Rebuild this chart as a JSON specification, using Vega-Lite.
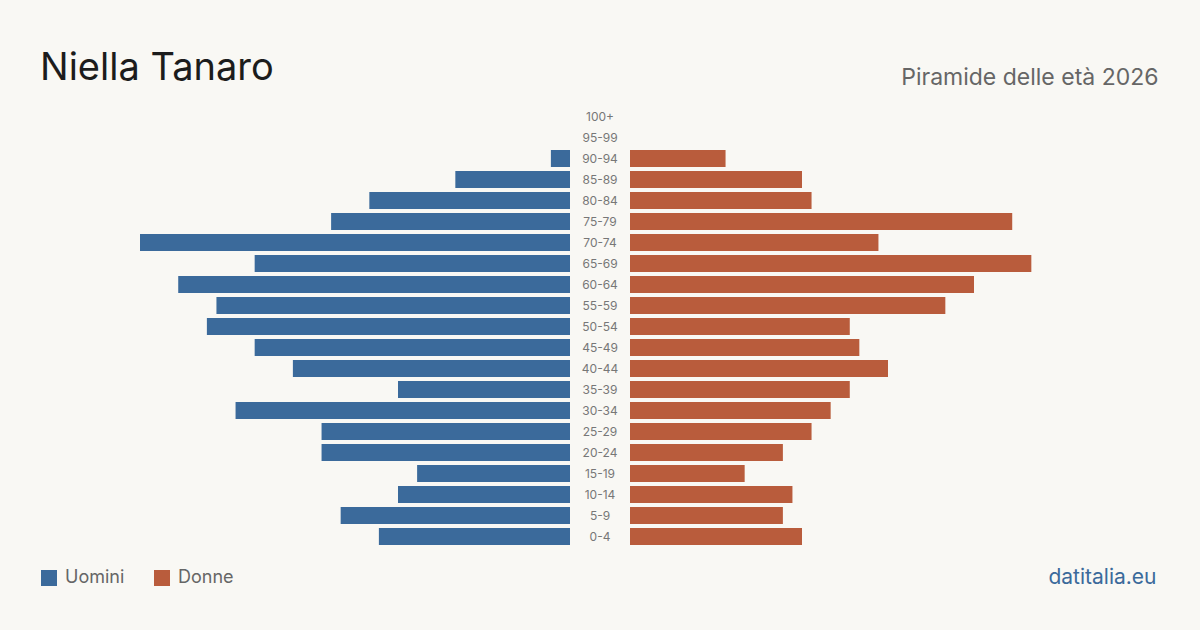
{
  "$schema": "https://vega.github.io/schema/vega-lite/v6.json",
  "autosize": "none",
  "width": 1200,
  "height": 441,
  "padding": {"left": 0, "top": 106, "right": 0, "bottom": 83},
  "background": "#f9f8f4",
  "config": {
    "view": {"stroke": null},
    "font": "Inter"
  },
  "title": {
    "text": "Niella Tanaro",
    "anchor": "start",
    "frame": "group",
    "dx": 40,
    "offset": -52,
    "baseline": "alphabetic",
    "font": "Inter",
    "fontSize": 38,
    "fontWeight": 400,
    "color": "#1c1c1c"
  },
  "data": {
    "values": [
      {"eta": "100+", "sesso": "Uomini", "n": 0}, {"eta": "100+", "sesso": "Donne", "n": 0},
      {"eta": "95-99", "sesso": "Uomini", "n": 0}, {"eta": "95-99", "sesso": "Donne", "n": 0},
      {"eta": "90-94", "sesso": "Uomini", "n": 2}, {"eta": "90-94", "sesso": "Donne", "n": 10},
      {"eta": "85-89", "sesso": "Uomini", "n": 12}, {"eta": "85-89", "sesso": "Donne", "n": 18},
      {"eta": "80-84", "sesso": "Uomini", "n": 21}, {"eta": "80-84", "sesso": "Donne", "n": 19},
      {"eta": "75-79", "sesso": "Uomini", "n": 25}, {"eta": "75-79", "sesso": "Donne", "n": 40},
      {"eta": "70-74", "sesso": "Uomini", "n": 45}, {"eta": "70-74", "sesso": "Donne", "n": 26},
      {"eta": "65-69", "sesso": "Uomini", "n": 33}, {"eta": "65-69", "sesso": "Donne", "n": 42},
      {"eta": "60-64", "sesso": "Uomini", "n": 41}, {"eta": "60-64", "sesso": "Donne", "n": 36},
      {"eta": "55-59", "sesso": "Uomini", "n": 37}, {"eta": "55-59", "sesso": "Donne", "n": 33},
      {"eta": "50-54", "sesso": "Uomini", "n": 38}, {"eta": "50-54", "sesso": "Donne", "n": 23},
      {"eta": "45-49", "sesso": "Uomini", "n": 33}, {"eta": "45-49", "sesso": "Donne", "n": 24},
      {"eta": "40-44", "sesso": "Uomini", "n": 29}, {"eta": "40-44", "sesso": "Donne", "n": 27},
      {"eta": "35-39", "sesso": "Uomini", "n": 18}, {"eta": "35-39", "sesso": "Donne", "n": 23},
      {"eta": "30-34", "sesso": "Uomini", "n": 35}, {"eta": "30-34", "sesso": "Donne", "n": 21},
      {"eta": "25-29", "sesso": "Uomini", "n": 26}, {"eta": "25-29", "sesso": "Donne", "n": 19},
      {"eta": "20-24", "sesso": "Uomini", "n": 26}, {"eta": "20-24", "sesso": "Donne", "n": 16},
      {"eta": "15-19", "sesso": "Uomini", "n": 16}, {"eta": "15-19", "sesso": "Donne", "n": 12},
      {"eta": "10-14", "sesso": "Uomini", "n": 18}, {"eta": "10-14", "sesso": "Donne", "n": 17},
      {"eta": "5-9", "sesso": "Uomini", "n": 24}, {"eta": "5-9", "sesso": "Donne", "n": 16},
      {"eta": "0-4", "sesso": "Uomini", "n": 20}, {"eta": "0-4", "sesso": "Donne", "n": 18}
    ]
  },
  "encoding": {
    "y": {
      "field": "eta",
      "type": "nominal",
      "scale": {
        "domain": ["100+", "95-99", "90-94", "85-89", "80-84", "75-79", "70-74", "65-69", "60-64", "55-59", "50-54", "45-49", "40-44", "35-39", "30-34", "25-29", "20-24", "15-19", "10-14", "5-9", "0-4"],
        "paddingInner": 0.19,
        "paddingOuter": 0.095
      },
      "axis": null
    }
  },
  "layer": [
    {
      "transform": [{"filter": "datum.sesso === 'Uomini'"}],
      "mark": {"type": "bar"},
      "encoding": {
        "x": {
          "field": "n",
          "type": "quantitative",
          "scale": {"domain": [0, 45], "range": [570, 140]},
          "axis": {
            "orient": "bottom",
            "domain": false, "ticks": false, "labels": false, "grid": false,
            "title": "datitalia.eu",
            "titleX": 1156, "titleY": 36,
            "titleAlign": "right", "titleAnchor": null,
            "titleBaseline": "alphabetic",
            "titleFont": "Inter", "titleFontSize": 21, "titleFontWeight": 400,
            "titleColor": "#3b6a9b"
          }
        },
        "color": {
          "field": "sesso",
          "type": "nominal",
          "scale": {"domain": ["Uomini", "Donne"], "range": ["#3b6a9b", "#b95c3c"]},
          "legend": {
            "title": null,
            "orient": "none",
            "legendX": 40,
            "legendY": 463,
            "direction": "horizontal",
            "symbolType": "square",
            "symbolSize": 256,
            "symbolStrokeWidth": 0,
            "symbolOpacity": 1,
            "labelFont": "Inter",
            "labelFontSize": 18,
            "labelColor": "#666666",
            "labelOffset": 7,
            "columnPadding": 28,
            "padding": 0
          }
        }
      }
    },
    {
      "transform": [{"filter": "datum.sesso === 'Donne'"}],
      "mark": {"type": "bar"},
      "encoding": {
        "x": {
          "field": "n",
          "type": "quantitative",
          "scale": {"domain": [0, 45], "range": [630, 1060]},
          "axis": {
            "orient": "top",
            "domain": false, "ticks": false, "labels": false, "grid": false,
            "title": "Piramide delle età 2026",
            "titleX": 1158, "titleY": -22,
            "titleAlign": "right", "titleAnchor": null,
            "titleBaseline": "alphabetic",
            "titleFont": "Inter", "titleFontSize": 23, "titleFontWeight": 400,
            "titleColor": "#666666"
          }
        },
        "color": {"field": "sesso", "type": "nominal"}
      }
    },
    {
      "transform": [{"filter": "datum.sesso === 'Uomini'"}],
      "mark": {"type": "text", "align": "center", "baseline": "middle", "font": "Inter", "fontSize": 12, "color": "#777777"},
      "encoding": {
        "text": {"field": "eta", "type": "nominal"}
      }
    }
  ],
  "resolve": {"scale": {"x": "independent"}, "axis": {"x": "independent"}}
}
